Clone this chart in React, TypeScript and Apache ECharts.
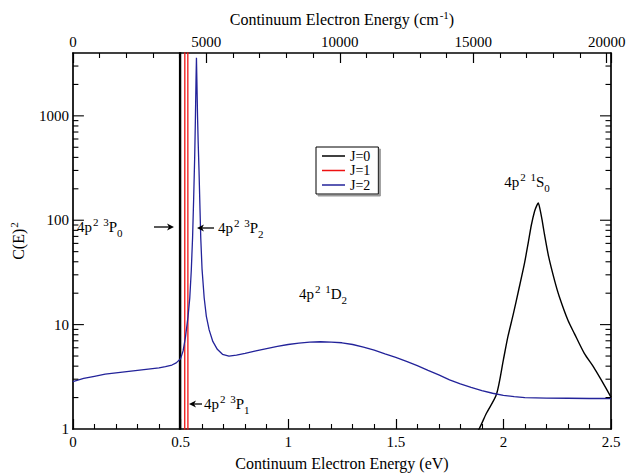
import React, { useEffect, useRef } from 'react';
import * as echarts from 'echarts';

// J=0 (black): narrow 3P0 resonance near 0.497 eV
const j0NarrowEnergy = [0.4955, 0.4962, 0.4998, 0.5005];
const j0NarrowValues = [0.1, 100000, 100000, 0.1];
// J=0 (black): 1S0 resonance near 2.16 eV
const j0Energy = [1.8, 1.887, 1.92, 1.968, 2.0, 2.02, 2.046, 2.07, 2.097, 2.115, 2.13, 2.145, 2.155, 2.162, 2.17, 2.18, 2.191, 2.21, 2.238, 2.26, 2.3, 2.33, 2.376, 2.42, 2.454, 2.5];
const j0Values = [0.5, 1.0, 1.4, 2.15, 4.6, 7.5, 12.6, 21, 37.7, 60, 90, 122, 138, 146, 128, 100, 73, 45, 26.4, 18.5, 11, 8.2, 5.3, 3.9, 2.97, 2.02];

// J=1 (red): narrow 3P1 resonance
const j1Energy = [0.5195, 0.5202, 0.5338, 0.5345];
const j1Values = [0.1, 100000, 100000, 0.1];

// J=2 (blue): 3P2 resonance and broad 1D2 hump
const j2Energy = [0, 0.05, 0.1, 0.15, 0.2, 0.25, 0.3, 0.35, 0.4, 0.43, 0.46, 0.48, 0.5, 0.512, 0.523, 0.535, 0.543, 0.55, 0.556, 0.561, 0.566, 0.569, 0.572, 0.574, 0.576, 0.579, 0.582, 0.586, 0.59, 0.594, 0.6, 0.61, 0.62, 0.633, 0.65, 0.671, 0.695, 0.725, 0.76, 0.8, 0.85, 0.9, 0.95, 1.0, 1.05, 1.1, 1.15, 1.2, 1.25, 1.3, 1.35, 1.4, 1.45, 1.5, 1.55, 1.6, 1.65, 1.7, 1.75, 1.8, 1.85, 1.9, 1.95, 2.0, 2.05, 2.1, 2.15, 2.2, 2.3, 2.4, 2.5];
const j2Values = [2.85, 3.05, 3.2, 3.35, 3.45, 3.55, 3.65, 3.75, 3.85, 3.95, 4.1, 4.3, 4.7, 5.6, 7.6, 12, 18, 33, 68, 160, 417, 900, 2200, 3600, 2200, 1000, 560, 295, 140, 68, 34, 18, 12, 8.9, 6.9, 5.8, 5.2, 5.0, 5.1, 5.3, 5.6, 5.9, 6.2, 6.45, 6.65, 6.8, 6.85, 6.8, 6.7, 6.45, 6.1, 5.7, 5.25, 4.85, 4.45, 4.05, 3.65, 3.3, 2.95, 2.7, 2.5, 2.33, 2.2, 2.1, 2.04, 2.0, 1.99, 1.98, 1.97, 1.96, 1.96];

const seriesNames = ['J=0', 'J=1', 'J=2'];
const seriesColors = ['#000000', '#ee1111', '#23239a'];

const logMajorTicks = [10, 100, 1000];
const logMinorTicks = [2, 3, 4, 5, 6, 7, 8, 9, 20, 30, 40, 50, 60, 70, 80, 90, 200, 300, 400, 500, 600, 700, 800, 900, 2000, 3000];

const EV_MIN = 0;
const EV_MAX = 2.5;
const EV_TO_CM = 8065.54;
const Y_MIN = 1;
const Y_MAX = 4000;

const FONT = "'Liberation Serif', 'Times New Roman', serif";

const richScripts = {
  sup: { fontSize: 11, lineHeight: 11, verticalAlign: 'top', fontFamily: FONT, color: '#000', padding: [0, 0, 0, 1] },
  sub: { fontSize: 11, lineHeight: 10, verticalAlign: 'bottom', fontFamily: FONT, color: '#000' },
};

function pairs(xs: number[], ys: number[]) {
  return xs.map((x, i) => [x, ys[i]]);
}

function labelText(x: number, y: number, text: string, align: string = 'left') {
  return {
    type: 'text',
    x,
    y,
    silent: true,
    z: 100,
    style: {
      text,
      fill: '#000',
      fontSize: 15,
      fontFamily: FONT,
      lineHeight: 22,
      align,
      verticalAlign: 'middle',
      rich: richScripts,
    },
  };
}

function arrow(xFrom: number, xTo: number, y: number) {
  const dir = xTo > xFrom ? 1 : -1;
  return [
    {
      type: 'line',
      silent: true,
      z: 100,
      shape: { x1: xFrom, y1: y, x2: xTo - dir * 4, y2: y },
      style: { stroke: '#000', lineWidth: 1.3 },
    },
    {
      type: 'polygon',
      silent: true,
      z: 100,
      shape: { points: [[xTo, y], [xTo - dir * 7, y - 3.5], [xTo - dir * 5, y], [xTo - dir * 7, y + 3.5]] },
      style: { fill: '#000' },
    },
  ];
}

export default function App() {
  const ref = useRef<HTMLDivElement>(null);
  useEffect(() => {
    const chart = echarts.init(ref.current!, null, { renderer: 'svg' });
    const isPow10 = (v: number) => {
      const l = Math.log10(v);
      return Math.abs(l - Math.round(l)) < 1e-6;
    };
    const tickData = [
      ...logMajorTicks.map((v) => [EV_MIN, v, 11]),
      ...logMinorTicks.map((v) => [EV_MIN, v, 5.5]),
    ];
    const axisLineStyle = { color: '#000', width: 1.7 };
    const lineBase = { type: 'line', showSymbol: false, symbol: 'none', clip: true };
    const option: any = {
      animation: false,
      backgroundColor: '#fff',
      textStyle: { fontFamily: FONT },
      grid: { left: 70, right: 18, top: 53, bottom: 43, containLabel: false },
      legend: {
        data: seriesNames,
        orient: 'vertical',
        left: 316,
        top: 147,
        icon: 'rect',
        itemWidth: 23,
        itemHeight: 1.5,
        itemGap: 0.5,
        padding: [2, 8, 2, 6],
        borderColor: '#000',
        borderWidth: 1,
        backgroundColor: '#fff',
        shadowColor: '#999',
        shadowBlur: 0,
        shadowOffsetX: 2,
        shadowOffsetY: 2,
        textStyle: { fontFamily: FONT, fontSize: 14, color: '#000', lineHeight: 14 },
        selectedMode: false,
      },
      xAxis: [
        {
          type: 'value',
          position: 'bottom',
          min: EV_MIN,
          max: EV_MAX,
          interval: 0.5,
          name: 'Continuum Electron Energy (eV)',
          nameLocation: 'middle',
          nameGap: 26,
          nameTextStyle: { fontFamily: FONT, fontSize: 16, color: '#000', verticalAlign: 'top' },
          axisLine: { show: true, onZero: false, lineStyle: axisLineStyle },
          axisTick: { show: true, inside: true, length: 10, lineStyle: { color: '#000', width: 1.2 } },
          minorTick: { show: true, splitNumber: 5, length: 5, lineStyle: { color: '#000', width: 1.1 } },
          axisLabel: { color: '#000', fontFamily: FONT, fontSize: 15, margin: 5, formatter: (v: number) => String(v) },
          splitLine: { show: false },
        },
        {
          type: 'value',
          position: 'top',
          min: EV_MIN * EV_TO_CM,
          max: EV_MAX * EV_TO_CM,
          interval: 5000,
          name: 'Continuum Electron Energy (cm{sup|-1})',
          nameLocation: 'middle',
          nameGap: 15,
          nameTextStyle: { fontFamily: FONT, fontSize: 16, color: '#000', lineHeight: 20, rich: richScripts },
          axisLine: { show: true, onZero: false, lineStyle: axisLineStyle },
          axisTick: { show: true, inside: true, length: 10, lineStyle: { color: '#000', width: 1.2 } },
          minorTick: { show: true, splitNumber: 5, length: 5, lineStyle: { color: '#000', width: 1.1 } },
          axisLabel: {
            color: '#000',
            fontFamily: FONT,
            fontSize: 15,
            margin: 4,
            formatter: (v: number) => (Math.abs(v % 5000) < 1e-6 ? String(Math.round(v)) : ''),
          },
          splitLine: { show: false },
        },
      ],
      yAxis: [
        {
          type: 'log',
          logBase: 10,
          min: Y_MIN,
          max: Y_MAX,
          position: 'left',
          name: 'C(E){sup|2}',
          nameLocation: 'middle',
          nameGap: 26,
          nameTextStyle: { fontFamily: FONT, fontSize: 16, color: '#000', lineHeight: 20, rich: richScripts },
          axisLine: { show: true, onZero: false, lineStyle: axisLineStyle },
          axisTick: { show: false },
          axisLabel: {
            color: '#000',
            fontFamily: FONT,
            fontSize: 15,
            margin: 4,
            formatter: (v: number) => (isPow10(v) ? String(Math.round(v)) : ''),
          },
          splitLine: { show: false },
        },
        {
          type: 'log',
          logBase: 10,
          min: Y_MIN,
          max: Y_MAX,
          position: 'right',
          axisLine: { show: true, onZero: false, lineStyle: axisLineStyle },
          axisTick: { show: false },
          axisLabel: { show: false },
          splitLine: { show: false },
        },
      ],
      series: [
        {
          ...lineBase,
          name: seriesNames[0],
          data: pairs(j0NarrowEnergy, j0NarrowValues),
          lineStyle: { color: seriesColors[0], width: 1.5 },
          itemStyle: { color: seriesColors[0] },
        },
        {
          ...lineBase,
          name: seriesNames[0],
          data: pairs(j0Energy, j0Values),
          smooth: 0.25,
          lineStyle: { color: seriesColors[0], width: 1.4 },
          itemStyle: { color: seriesColors[0] },
        },
        {
          ...lineBase,
          name: seriesNames[1],
          data: pairs(j1Energy, j1Values),
          lineStyle: { color: seriesColors[1], width: 1.3 },
          itemStyle: { color: seriesColors[1] },
        },
        {
          ...lineBase,
          name: seriesNames[2],
          data: pairs(j2Energy, j2Values),
          lineStyle: { color: seriesColors[2], width: 1.3 },
          itemStyle: { color: seriesColors[2] },
        },
        {
          type: 'custom',
          silent: true,
          clip: false,
          z: 10,
          encode: { x: 0, y: 1 },
          data: tickData,
          renderItem: (params: any, api: any) => {
            const v = api.value(1);
            const len = api.value(2);
            const l = api.coord([EV_MIN, v]);
            const r = api.coord([EV_MAX, v]);
            const style = { stroke: '#000', lineWidth: 1.1 };
            return {
              type: 'group',
              children: [
                { type: 'line', shape: { x1: l[0], y1: l[1], x2: l[0] + len, y2: l[1] }, style },
                { type: 'line', shape: { x1: r[0] - len, y1: r[1], x2: r[0], y2: r[1] }, style },
              ],
            };
          },
        },
      ],
      graphic: [
        labelText(77, 227, '4p{sup|2} {sup|3}P{sub|0}'),
        ...arrow(154, 174, 227),
        labelText(218, 228, '4p{sup|2} {sup|3}P{sub|2}'),
        ...arrow(214, 197, 228),
        labelText(204, 404, '4p{sup|2} {sup|3}P{sub|1}'),
        ...arrow(202, 189, 404),
        labelText(323, 294, '4p{sup|2} {sup|1}D{sub|2}', 'center'),
        labelText(527, 182, '4p{sup|2} {sup|1}S{sub|0}', 'center'),
      ],
    };
    chart.setOption(option);
    return () => chart.dispose();
  }, []);
  return <div ref={ref} style={{ position: 'absolute', left: 0, top: 0, width: 629, height: 476 }} />;
}
